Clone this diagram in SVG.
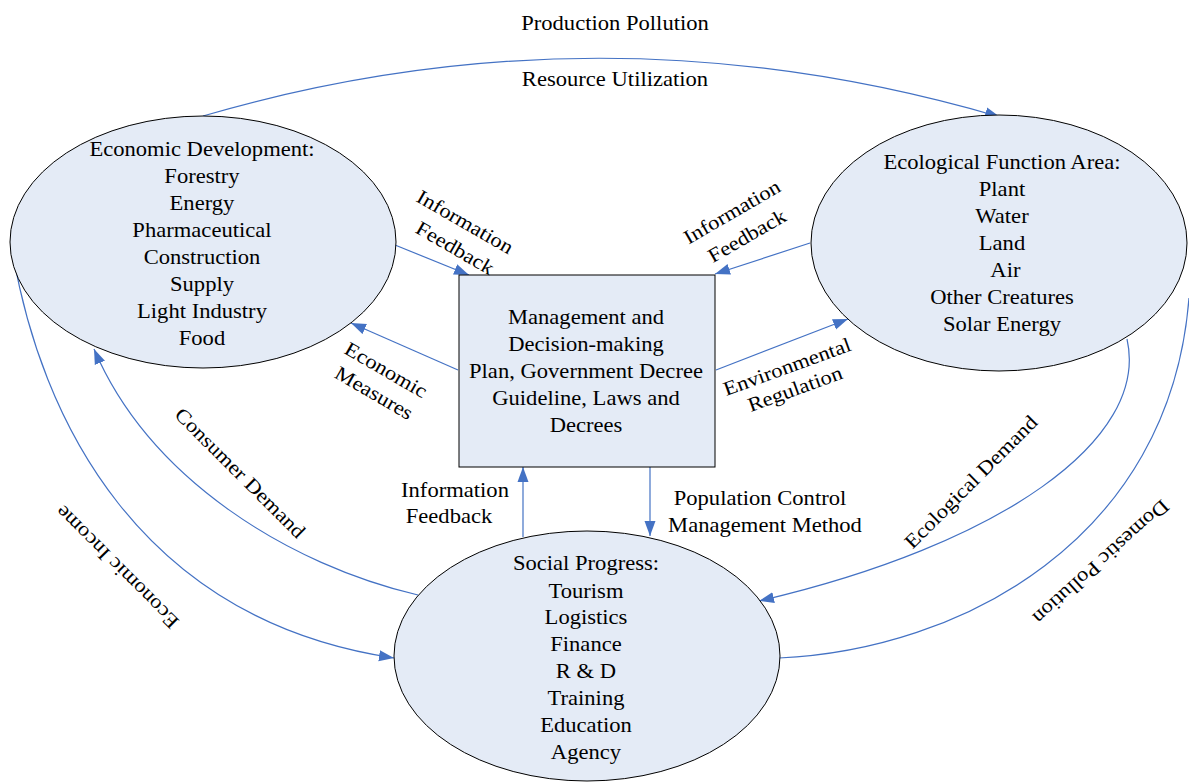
<svg xmlns="http://www.w3.org/2000/svg" width="1189" height="782" viewBox="0 0 1189 782">
<defs>
<marker id="arr" markerUnits="userSpaceOnUse" markerWidth="16" markerHeight="12" refX="15" refY="6" orient="auto">
<path d="M0,0.5 L15,6 L0,11.5 z" fill="#4472C4"/>
</marker>
<style>
.node{fill:#E4EBF6;stroke:#000;stroke-width:1}
.t{font-family:"Liberation Serif","Times New Roman",serif;font-size:20px;fill:#000;text-anchor:middle;dominant-baseline:central}
.c{fill:none;stroke:#4472C4;stroke-width:1.2}
</style>
</defs>
<rect width="1189" height="782" fill="#fff"/>
<g id="connectors">
<path class="c" d="M203,116 Q600,0 1000,117" marker-end="url(#arr)"/>
<path class="c" d="M395,245 L469,275" marker-end="url(#arr)"/>
<path class="c" d="M810,243 L715,274" marker-end="url(#arr)"/>
<path class="c" d="M458,370 L351,323" marker-end="url(#arr)"/>
<path class="c" d="M716,370 L848,319" marker-end="url(#arr)"/>
<path class="c" d="M523,537 L523,467" marker-end="url(#arr)"/>
<path class="c" d="M650,467 L650,536" marker-end="url(#arr)"/>
<path class="c" d="M418,595 C290,565 150,480 94,349" marker-end="url(#arr)"/>
<path class="c" d="M12,248 C40,420 140,620 394,658" marker-end="url(#arr)"/>
<path class="c" d="M1127,339 C1150,440 1000,545 759,601" marker-end="url(#arr)"/>
<path class="c" d="M779,658 C960,650 1170,540 1189,298"/>
</g>
<g id="economic">
<ellipse class="node" cx="203" cy="242" rx="193" ry="126"/>
<g transform="matrix(1.13,0,0,1,-26.26,0)">
<text class="t" x="202" y="149">Economic Development:</text>
<text class="t" x="202" y="176">Forestry</text>
<text class="t" x="202" y="203">Energy</text>
<text class="t" x="202" y="230">Pharmaceutical</text>
<text class="t" x="202" y="257">Construction</text>
<text class="t" x="202" y="284">Supply</text>
<text class="t" x="202" y="311">Light Industry</text>
<text class="t" x="202" y="338">Food</text>
</g>
</g>
<g id="ecological">
<ellipse class="node" cx="999" cy="243" rx="188" ry="128"/>
<g transform="matrix(1.13,0,0,1,-130.26,0)">
<text class="t" x="1002" y="162">Ecological Function Area:</text>
<text class="t" x="1002" y="189">Plant</text>
<text class="t" x="1002" y="216">Water</text>
<text class="t" x="1002" y="243">Land</text>
<text class="t" x="1005" y="270">Air</text>
<text class="t" x="1002" y="297">Other Creatures</text>
<text class="t" x="1002" y="324">Solar Energy</text>
</g>
</g>
<g id="management">
<rect class="node" x="459" y="275" width="256" height="192"/>
<g transform="matrix(1.13,0,0,1,-76.18,0)">
<text class="t" x="586" y="317">Management and</text>
<text class="t" x="586" y="344">Decision-making</text>
<text class="t" x="586" y="371">Plan, Government Decree</text>
<text class="t" x="586" y="398">Guideline, Laws and</text>
<text class="t" x="586" y="425">Decrees</text>
</g>
</g>
<g id="social">
<ellipse class="node" cx="587" cy="656" rx="193" ry="125"/>
<g transform="matrix(1.13,0,0,1,-76.18,0)">
<text class="t" x="586" y="563">Social Progress:</text>
<text class="t" x="586" y="591">Tourism</text>
<text class="t" x="586" y="617">Logistics</text>
<text class="t" x="586" y="644">Finance</text>
<text class="t" x="586" y="671">R &amp; D</text>
<text class="t" x="586" y="698">Training</text>
<text class="t" x="586" y="725">Education</text>
<text class="t" x="586" y="752">Agency</text>
</g>
</g>
<g id="labels">
<text class="t" transform="translate(615,23) scale(1.13,1)">Production Pollution</text>
<text class="t" transform="translate(615,79) scale(1.13,1)">Resource Utilization</text>
<text class="t" transform="translate(465,222) rotate(30) scale(1.13,1)">Information</text>
<text class="t" transform="translate(455,248) rotate(30) scale(1.13,1)">Feedback</text>
<text class="t" transform="translate(732,212) rotate(-30) scale(1.13,1)">Information</text>
<text class="t" transform="translate(747,236) rotate(-30) scale(1.13,1)">Feedback</text>
<text class="t" transform="translate(386,370) rotate(30) scale(1.13,1)">Economic</text>
<text class="t" transform="translate(374,393) rotate(30) scale(1.13,1)">Measures</text>
<text class="t" transform="translate(787,367) rotate(-20) scale(1.13,1)">Environmental</text>
<text class="t" transform="translate(795,389) rotate(-20) scale(1.13,1)">Regulation</text>
<text class="t" transform="translate(455,490) scale(1.13,1)">Information</text>
<text class="t" transform="translate(449,516) scale(1.13,1)">Feedback</text>
<text class="t" transform="translate(760,498) scale(1.13,1)">Population Control</text>
<text class="t" transform="translate(765,525) scale(1.13,1)">Management Method</text>
<text class="t" transform="translate(240,473) rotate(45) scale(1.13,1)">Consumer Demand</text>
<text class="t" transform="translate(117,567) rotate(-135) scale(1.13,1)">Economic Income</text>
<text class="t" transform="translate(971,482) rotate(-45) scale(1.13,1)">Ecological Demand</text>
<text class="t" transform="translate(1101,562) rotate(138) scale(1.13,1)">Domestic Pollution</text>
</g>
</svg>
